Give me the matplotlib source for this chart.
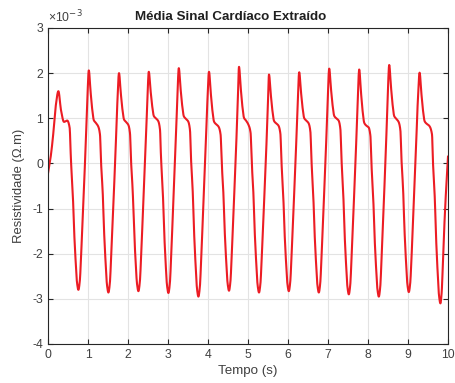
import numpy as np
import matplotlib
matplotlib.use("Agg")
import matplotlib.pyplot as plt
from matplotlib.ticker import FuncFormatter

plt.rcParams['font.family'] = ['Liberation Sans', 'DejaVu Sans']

# values (resistivity in units of 1e-3 Ohm.m)
trough_t = [0.76, 1.51, 2.26, 3.01, 3.76, 4.525, 5.275, 6.02, 6.77, 7.52, 8.27, 9.02, 9.81]
trough_v = [-2.80, -2.86, -2.83, -2.87, -2.95, -2.82, -2.86, -2.83, -2.86, -2.90, -2.95, -2.85, -3.10]
peak_t = [0.26, 1.02, 1.775, 2.52, 3.27, 4.025, 4.775, 5.525, 6.28, 7.03, 7.78, 8.53, 9.29]
peak_v = [1.60, 2.06, 2.00, 2.03, 2.11, 2.03, 2.14, 1.97, 2.02, 2.10, 2.08, 2.18, 2.01]
shoulder_v = [0.92, 0.90, 0.92, 1.00, 0.99, 0.87, 0.95, 0.89, 0.95, 1.00, 0.84, 0.99, 0.88]
knee_v = [0.81, 0.82, 0.85, 0.94, 0.93, 0.82, 0.86, 0.84, 0.89, 0.95, 0.80, 0.92, 0.84]

# first beat and the tail, read point by point
first_t = [0.0, 0.06, 0.12, 0.19, 0.26, 0.325, 0.40, 0.48, 0.54]
first_v = [-0.22, 0.10, 0.55, 1.25, 1.60, 1.18, 0.92, 0.95, 0.80]
tail_t = [9.84, 9.875, 9.91, 9.95, 10.0]
tail_v = [-2.88, -2.15, -1.35, -0.62, 0.15]

xticks = list(range(0, 11))
yticks = [-4, -3, -2, -1, 0, 1, 2, 3]


def pchip(x, y, xs):
    x = np.asarray(x, float)
    y = np.asarray(y, float)
    h = np.diff(x)
    d = np.diff(y) / h
    m = np.zeros_like(y)
    m[0], m[-1] = d[0], d[-1]
    for k in range(1, len(x) - 1):
        if d[k - 1] * d[k] > 0:
            w1 = 2 * h[k] + h[k - 1]
            w2 = h[k] + 2 * h[k - 1]
            m[k] = (w1 + w2) / (w1 / d[k - 1] + w2 / d[k])
    i = np.clip(np.searchsorted(x, xs) - 1, 0, len(x) - 2)
    s = (xs - x[i]) / h[i]
    h00 = 2 * s**3 - 3 * s**2 + 1
    h10 = s**3 - 2 * s**2 + s
    h01 = -2 * s**3 + 3 * s**2
    h11 = s**3 - s**2
    return h00 * y[i] + h10 * h[i] * m[i] + h01 * y[i + 1] + h11 * h[i] * m[i + 1]


# key points of the curve: read beat by beat, shaped around each trough / peak
kt = list(first_t)
kv = list(first_v)
for i in range(len(trough_t)):
    T, tv = trough_t[i], trough_v[i]
    kprev = knee_v[i]
    span = kprev - tv
    fall_dt = [-0.21, -0.185, -0.14, -0.11, -0.07, -0.035, 0.0]
    fall_fr = [0.95, 0.79, 0.59, 0.38, 0.18, 0.045, 0.0]
    for dt, fr in zip(fall_dt, fall_fr):
        if i == 0 and dt < -0.2:
            continue
        kt.append(T + dt)
        kv.append(tv + fr * span)
    if i + 1 < len(peak_t):
        P, pv = peak_t[i + 1], peak_v[i + 1]
        sv, kk = shoulder_v[i + 1], knee_v[i + 1]
        amp = pv - tv
        for dt, fr in zip([0.035, 0.065, 0.10, 0.14, 0.18, 0.22], [0.04, 0.145, 0.30, 0.47, 0.65, 0.85]):
            kt.append(T + dt)
            kv.append(tv + fr * amp)
        for dt, fr in zip([0.0, 0.045, 0.085, 0.125, 0.175], [0.0, 0.41, 0.74, 0.95, 1.0]):
            kt.append(P + dt)
            kv.append(pv - fr * (pv - sv))
        kt.append(P + 0.235)
        kv.append(kk)
kt += tail_t
kv += tail_v

t = np.linspace(0, 10, 4000)
v = pchip(kt, kv, t)

fig = plt.figure(figsize=(4.55, 3.83), dpi=100)
ax = fig.add_axes([48 / 455, 1 - 344 / 383, 400 / 455, 316 / 383])

ax.plot(t, v * 1e-3, color='#ec1c24', lw=1.5)

ax.set_xlim(0, 10)
ax.set_ylim(-4e-3, 3e-3)
ax.set_xticks(xticks)
ax.set_yticks([y * 1e-3 for y in yticks])
ax.yaxis.set_major_formatter(FuncFormatter(lambda val, pos: '%d' % round(val * 1e3)))
ax.xaxis.set_major_formatter(FuncFormatter(lambda val, pos: '%d' % round(val)))
ax.grid(True, color='#e3e3e3', lw=0.8)
ax.set_axisbelow(True)
ax.tick_params(direction='in', top=True, right=True, length=3.5, width=0.8,
               colors='#262626', labelcolor='#404040', labelsize=8.8)
for sp in ax.spines.values():
    sp.set_color('#262626')
    sp.set_linewidth(0.8)

ax.set_xlabel('Tempo (s)', fontsize=9.6, color='#404040', labelpad=3)
ax.set_ylabel('Resistividade (\u03a9.m)', fontsize=9.4, color='#404040', labelpad=5)
fig.text(231 / 455, 1 - 17 / 383, 'Média Sinal Cardíaco Extraído', ha='center', va='center',
         fontsize=9.6, fontweight='bold', color='#202020')
fig.text(48 / 455, 1 - 17 / 383, '\u00d710$^{-3}$', ha='left', va='center',
         fontsize=8.8, color='#404040')

fig.savefig('out.png', dpi=100)
